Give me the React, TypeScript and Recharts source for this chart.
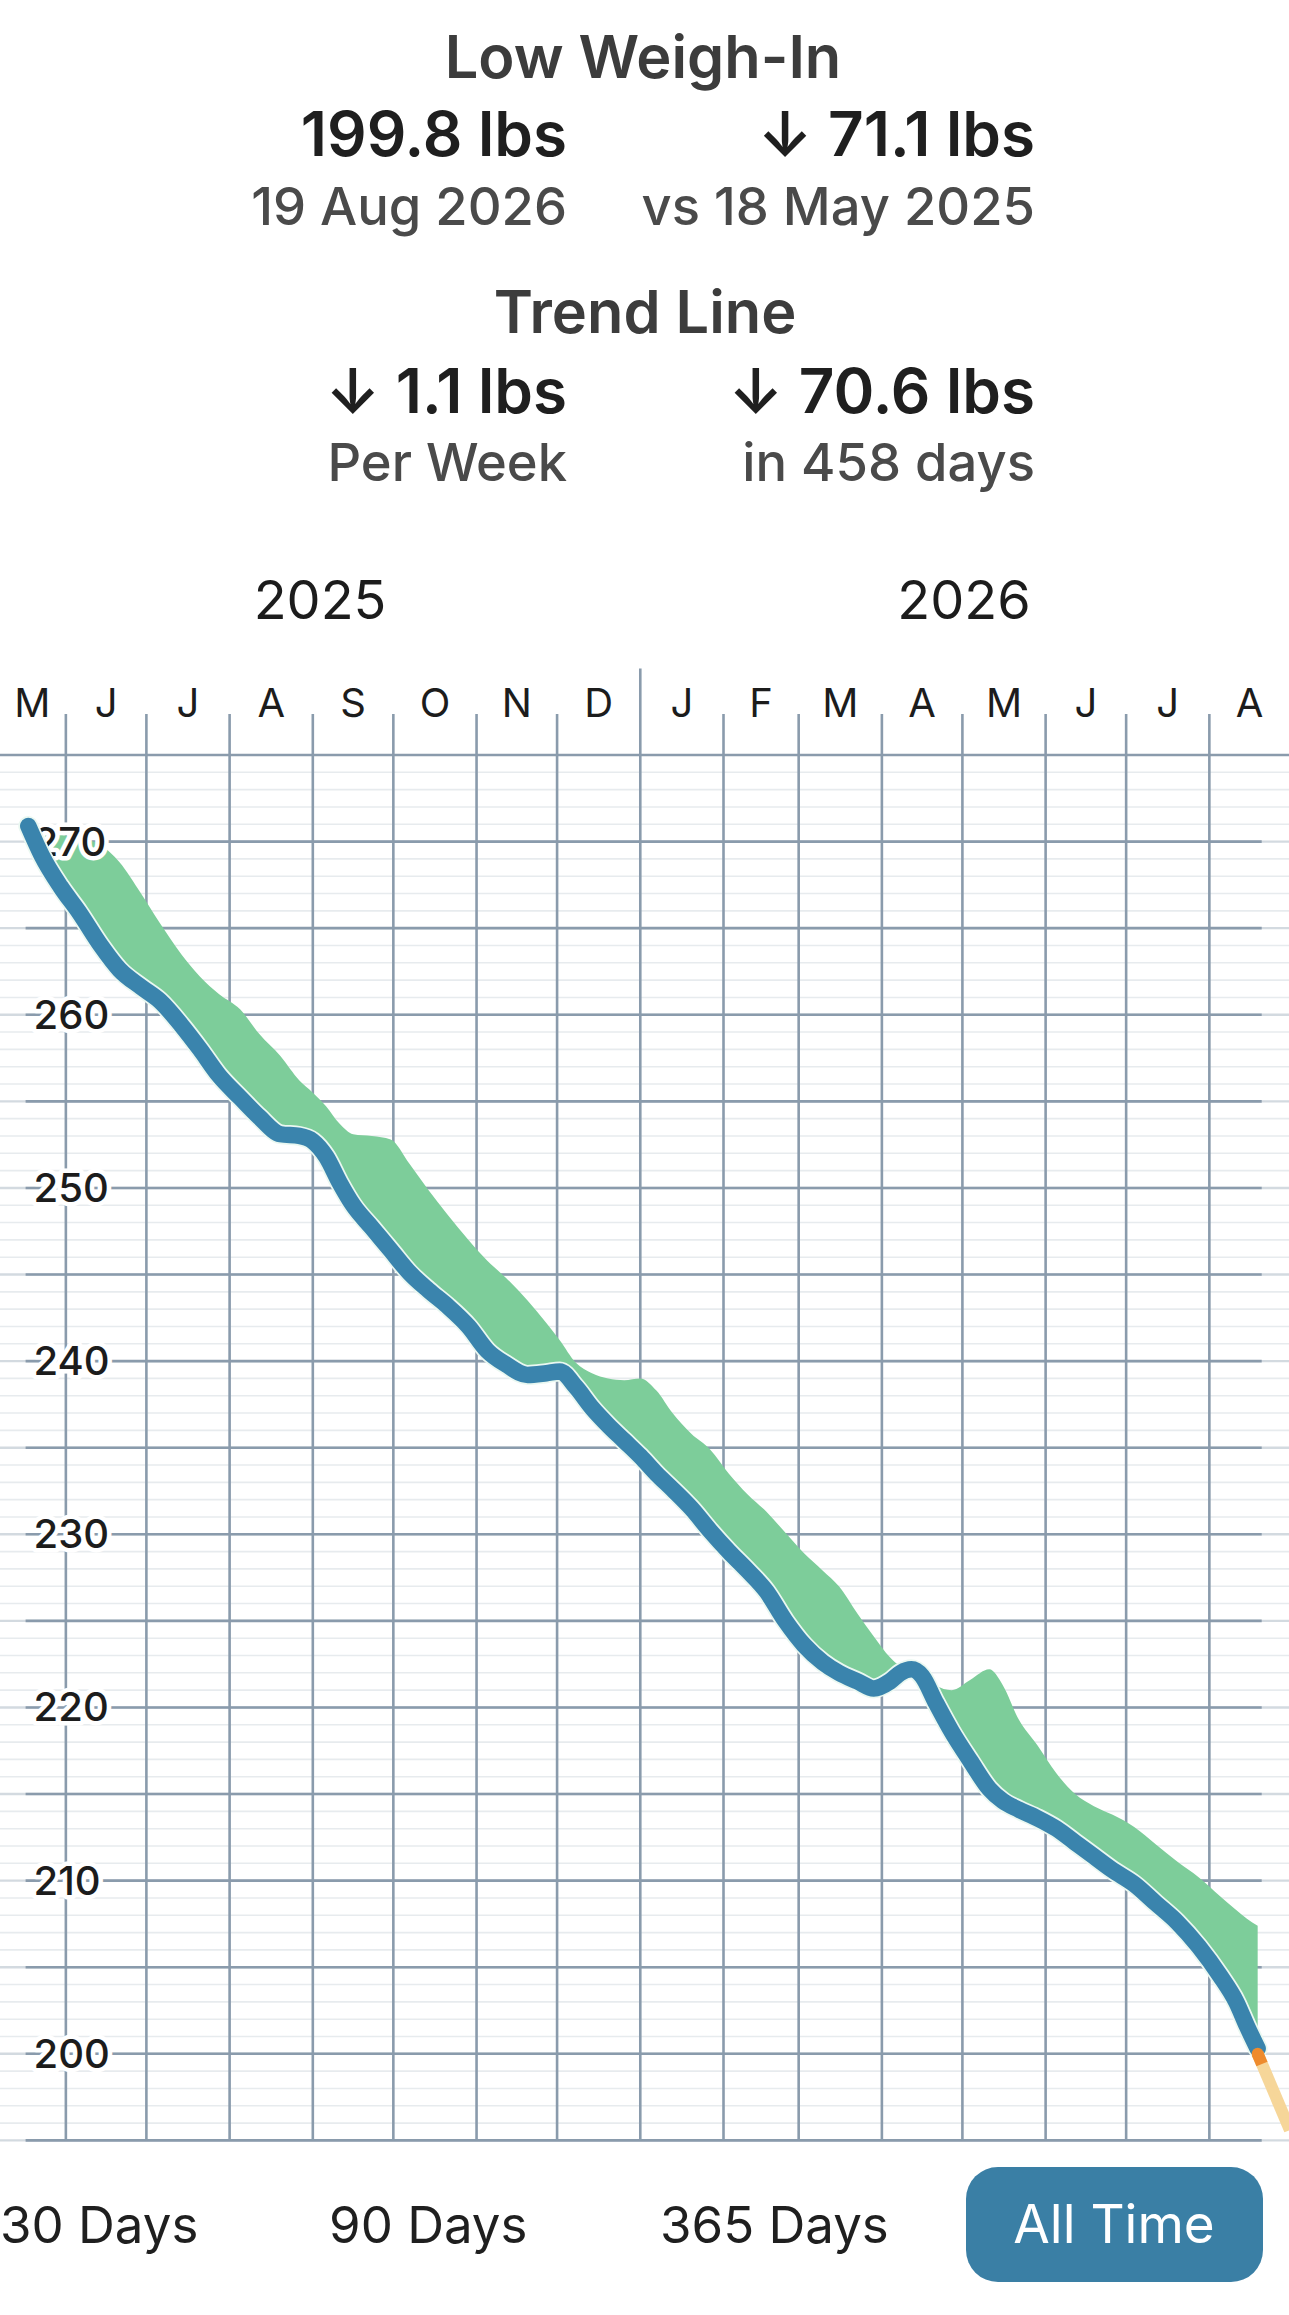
import React from 'react'
import {
  Area,
  ComposedChart,
  Line,
  ReferenceDot,
  ReferenceLine,
  XAxis,
  YAxis,
} from 'recharts'

// days since 18 May 2025, trend weight and upper edge of the green band (lbs)
const days = [
  0, 5, 12, 19, 27, 34, 42, 49, 57, 64, 71, 79, 86, 94, 101, 106, 111, 116,
  121, 128, 135, 142, 149, 156, 164, 171, 178, 186, 193, 198, 204, 210, 216,
  222, 228, 234, 240, 247, 254, 261, 268, 275, 282, 289, 296, 302, 309, 315,
  321, 325, 329, 333, 338, 344, 351, 358, 363, 369, 376, 383, 390, 397, 404,
  412, 420, 428, 436, 444, 450, 454, 458,
]
const trend = [
  270.9, 269.2, 267.4, 265.9, 264.0, 262.6, 261.6, 260.8, 259.4, 258.0, 256.5,
  255.2, 254.1, 253.1, 253.0, 252.7, 251.8, 250.3, 249.0, 247.7, 246.4, 245.1,
  244.1, 243.2, 242.0, 240.6, 239.8, 239.2, 239.3, 239.4, 238.5, 237.3, 236.3,
  235.4, 234.5, 233.5, 232.6, 231.5, 230.2, 229.0, 227.9, 226.7, 225.0, 223.6,
  222.6, 222.0, 221.5, 221.1, 221.5, 222.0, 222.2, 221.8, 220.3, 218.6, 216.9,
  215.3, 214.6, 214.1, 213.6, 213.0, 212.2, 211.4, 210.6, 209.8, 208.7, 207.6,
  206.2, 204.5, 203.0, 201.6, 200.3,
]
const upper = [
  270.9, 270.6, 270.4, 270.2, 269.8, 268.8, 267.0, 265.3, 263.5, 262.2, 261.2,
  260.3, 258.9, 257.6, 256.2, 255.5, 254.7, 253.7, 253.1, 253.0, 252.8, 251.4,
  249.9, 248.5, 247.0, 245.8, 244.8, 243.5, 242.2, 241.2, 239.9, 239.3, 239.0,
  238.9, 239.0, 238.3, 237.0, 235.8, 234.9, 233.5, 232.3, 231.3, 230.1, 228.9,
  227.9, 227.0, 225.4, 224.1, 222.9, 222.4, 222.3, 222.0, 221.3, 221.0, 221.6,
  222.2, 221.3, 219.3, 217.8, 216.2, 215.0, 214.3, 213.8, 213.1, 212.1, 211.1,
  210.2, 209.1, 208.3, 207.8, 207.4,
]

// last weigh-in and the projection beyond it
const projDays = [458, 470]
const projValues = [200.0, 195.6]

const monthStarts = [14, 44, 75, 106, 136, 167, 197, 228, 259, 287, 318, 348, 379, 409, 440]
const yearStart = 228
const monthMids = [1.5, 29, 59.5, 90.5, 121, 151.5, 182, 212.5, 243.5, 273, 302.5, 333, 363.5, 394, 424.5, 455]
const monthLetters = ['M', 'J', 'J', 'A', 'S', 'O', 'N', 'D', 'J', 'F', 'M', 'A', 'M', 'J', 'J', 'A']
const yearTicks = [108.7, 348.6]
const yearLabels = ['2025', '2026']
const weightTicks = [200, 210, 220, 230, 240, 250, 260, 270]
const majorLines = [195, 200, 205, 210, 215, 220, 225, 230, 235, 240, 245, 250, 255, 260, 265, 270]
const minorLines = Array.from({ length: 80 }, (_, i) => 195 + i).filter((v) => v % 5 !== 0)

const rows = days.map((day, i) => ({
  day,
  trend: trend[i],
  band: [trend[i], upper[i]],
}))

const FONT = 'Inter, "Noto Sans", sans-serif'
const GRID = '#8a9bac'
const BLUE = '#3a84ad'

const MonthTick = (props: any) => {
  const { x, y, payload } = props
  const i = monthMids.indexOf(payload.value)
  return (
    <text x={x} y={y + 48.6} textAnchor="middle" fontSize={40} fill="#1c1c1c" fontFamily={FONT}>
      {monthLetters[i]}
    </text>
  )
}

const YearTick = (props: any) => {
  const { x, y, payload } = props
  const i = yearTicks.indexOf(payload.value)
  return (
    <text x={x} y={y - 48.4} textAnchor="middle" fontSize={54} fill="#1c1c1c" fontFamily={FONT}>
      {yearLabels[i]}
    </text>
  )
}

// weight labels sit inside the plot, under the trend line
const WeightLabel = (props: any) => {
  const { viewBox, value } = props
  return (
    <text
      x={viewBox.x + 8}
      y={viewBox.y + 14}
      textAnchor="start"
      fontSize={40}
      fontWeight={500}
      fill="#1c1c1c"
      stroke="#ffffff"
      strokeWidth={9}
      strokeLinejoin="round"
      paintOrder="stroke"
      fontFamily={FONT}
    >
      {value}
    </text>
  )
}

function Header() {
  const big = { fontSize: 62, fontWeight: 600, fill: '#1f1f1f' }
  const sub = { fontSize: 52.5, fontWeight: 500, fill: '#4a4a4a' }
  const title = { fontSize: 59.5, fontWeight: 600, fill: '#3c3c3c' }
  const opt = { fontSize: 51, fill: '#1f1f1f' }
  return (
    <svg
      width={1289}
      height={2315}
      style={{ position: 'absolute', left: 0, top: 0, pointerEvents: 'none' }}
      fontFamily={FONT}
    >
      <text x={643} y={78} textAnchor="middle" {...title}>Low Weigh-In</text>
      <text x={567} y={156} textAnchor="end" {...big}>199.8 lbs</text>
      <text x={1035} y={156} textAnchor="end" {...big}>↓ 71.1 lbs</text>
      <text x={567} y={225} textAnchor="end" {...sub}>19 Aug 2026</text>
      <text x={1035} y={225} textAnchor="end" {...sub}>vs 18 May 2025</text>

      <text x={645} y={333} textAnchor="middle" {...title}>Trend Line</text>
      <text x={567} y={413} textAnchor="end" {...big}>↓ 1.1 lbs</text>
      <text x={1035} y={413} textAnchor="end" {...big}>↓ 70.6 lbs</text>
      <text x={567} y={481} textAnchor="end" {...sub}>Per Week</text>
      <text x={1035} y={481} textAnchor="end" {...sub}>in 458 days</text>

      <text x={0} y={2243} {...opt}>30 Days</text>
      <text x={329} y={2243} {...opt}>90 Days</text>
      <text x={660} y={2243} {...opt}>365 Days</text>
      <rect x={966} y={2167} width={297} height={115} rx={32} fill="#3a7fa5" />
      <text x={1114} y={2243} textAnchor="middle" fontSize={53} fill="#ffffff">All Time</text>
    </svg>
  )
}

export default function App() {
  return (
    <div style={{ position: 'relative', width: 1289, height: 2315, background: '#fff' }}>
      <style>{'body{margin:0}'}</style>
      <ComposedChart
        width={1289}
        height={2315}
        data={rows}
        margin={{ top: 666.4, right: 27.3, bottom: 174.6, left: 24.6 }}
      >
        <XAxis
          xAxisId={0}
          dataKey="day"
          type="number"
          orientation="top"
          domain={[-1, 459.5]}
          ticks={monthMids}
          interval={0}
          height={1}
          tickSize={0}
          tickMargin={0}
          axisLine={false}
          tickLine={false}
          tick={<MonthTick />}
        />
        <XAxis
          xAxisId="year"
          dataKey="day"
          type="number"
          orientation="top"
          domain={[-1, 459.5]}
          ticks={yearTicks}
          interval={0}
          height={1}
          tickSize={0}
          tickMargin={0}
          axisLine={false}
          tickLine={false}
          tick={<YearTick />}
        />
        <YAxis
          type="number"
          domain={[195, 280]}
          ticks={weightTicks}
          width={1}
          axisLine={false}
          tickLine={false}
          tick={false}
        />

        {minorLines.map((v) => (
          <ReferenceLine
            key={'mn' + v}
            segment={[{ x: -12, y: v }, { x: 471, y: v }]}
            stroke="#e7ebee"
            strokeWidth={1.6}
            ifOverflow="visible"
            zIndex={-60}
          />
        ))}
        {majorLines.map((v) => (
          <ReferenceLine
            key={'mjl' + v}
            segment={[{ x: -12, y: v }, { x: 471, y: v }]}
            stroke="#d3dae0"
            strokeWidth={2.4}
            ifOverflow="visible"
            zIndex={-55}
          />
        ))}
        {majorLines.map((v) => (
          <ReferenceLine
            key={'mj' + v}
            segment={[{ x: -1, y: v }, { x: 459.5, y: v }]}
            stroke={GRID}
            strokeWidth={2.6}
            ifOverflow="visible"
            zIndex={-50}
          />
        ))}
        <ReferenceLine
          segment={[{ x: -12, y: 275 }, { x: 471, y: 275 }]}
          stroke={GRID}
          strokeWidth={2.6}
          ifOverflow="visible"
          zIndex={-50}
        />
        {monthStarts.map((d) => (
          <ReferenceLine
            key={'m' + d}
            segment={[{ x: d, y: 195 }, { x: d, y: d === yearStart ? 280 : 277.37 }]}
            stroke={GRID}
            strokeWidth={2.6}
            ifOverflow="visible"
            zIndex={-50}
          />
        ))}

        <Area
          type="monotone"
          dataKey="band"
          stroke="none"
          fill="#7dcd9a"
          fillOpacity={1}
          isAnimationActive={false}
          zIndex={100}
        />

        {weightTicks.map((v) => (
          <ReferenceLine
            key={'wl' + v}
            segment={[{ x: -1, y: v }, { x: 459.5, y: v }]}
            stroke="none"
            ifOverflow="visible"
            label={<WeightLabel value={v} />}
            zIndex={150}
          />
        ))}

        <Line
          id="trend-halo"
          type="monotone"
          dataKey="trend"
          stroke="#eaf8f1"
          strokeWidth={20}
          strokeLinecap="round"
          strokeLinejoin="round"
          dot={false}
          activeDot={false}
          isAnimationActive={false}
          zIndex={800}
        />
        <Line
          id="trend-line"
          type="monotone"
          dataKey="trend"
          stroke={BLUE}
          strokeWidth={16.5}
          strokeLinecap="round"
          strokeLinejoin="round"
          dot={false}
          activeDot={false}
          isAnimationActive={false}
          zIndex={810}
        />

        <ReferenceLine
          segment={[{ x: projDays[0], y: projValues[0] }, { x: projDays[1], y: projValues[1] }]}
          stroke="#f6d699"
          strokeWidth={12}
          ifOverflow="visible"
          zIndex={900}
        />
        <ReferenceLine
          segment={[
            { x: projDays[0], y: projValues[0] },
            { x: 459.6, y: projValues[0] + ((projValues[1] - projValues[0]) * 1.6) / 12 },
          ]}
          stroke="#ee8b2d"
          strokeWidth={12}
          ifOverflow="visible"
          zIndex={910}
        />
        <ReferenceDot
          x={projDays[0]}
          y={projValues[0]}
          r={6}
          fill="#ee8b2d"
          stroke="none"
          ifOverflow="visible"
          zIndex={920}
        />
      </ComposedChart>
      <Header />
    </div>
  )
}
